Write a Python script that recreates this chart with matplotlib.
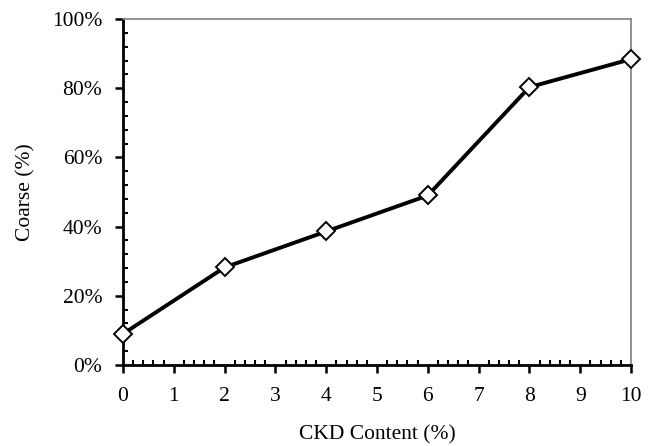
import numpy as np
import matplotlib.pyplot as plt
from matplotlib.ticker import MultipleLocator, PercentFormatter

# contenido de CKD (%) y fraccion gruesa (%)
ckd = [0, 2, 4, 6, 8, 10]
coarse = [9.0, 28.2, 38.6, 49.0, 80.3, 88.4]

plt.rcParams['font.family'] = ['Liberation Serif', 'DejaVu Serif']

fig = plt.figure(figsize=(6.56, 4.46), dpi=100)
ax = fig.add_axes([123/656, 1 - 365/446, (631-123)/656, (365-19)/446])

ax.plot(ckd, coarse, '-', color='black', lw=2.8, marker='D', ms=9,
        mfc='white', mec='black', mew=1.4, clip_on=False, zorder=5)

ax.set_xlim(0, 10)
ax.set_ylim(0, 100)
ax.xaxis.set_major_locator(MultipleLocator(1))
ax.xaxis.set_minor_locator(MultipleLocator(0.2))
ax.yaxis.set_major_locator(MultipleLocator(20))
ax.yaxis.set_minor_locator(MultipleLocator(4))
ax.yaxis.set_major_formatter(PercentFormatter(decimals=0))

ax.tick_params(which='major', direction='out', length=6, width=1.8,
               labelsize=15.5, colors='black')
ax.tick_params(axis='x', which='major', pad=10)
ax.tick_params(axis='y', which='major', pad=9)
ax.tick_params(which='minor', direction='in', length=3.5, width=1.5)
ax.tick_params(top=False, right=False, which='both')

for s in ['left', 'bottom']:
    ax.spines[s].set_linewidth(2)
    ax.spines[s].set_color('black')
for s in ['top', 'right']:
    ax.spines[s].set_linewidth(1.2)
    ax.spines[s].set_color('#808080')

ax.set_xlabel('CKD Content (%)', fontsize=15.5, labelpad=14)
ax.set_ylabel('Coarse (%)', fontsize=15.5, labelpad=12)

fig.savefig('out.png', dpi=100)
